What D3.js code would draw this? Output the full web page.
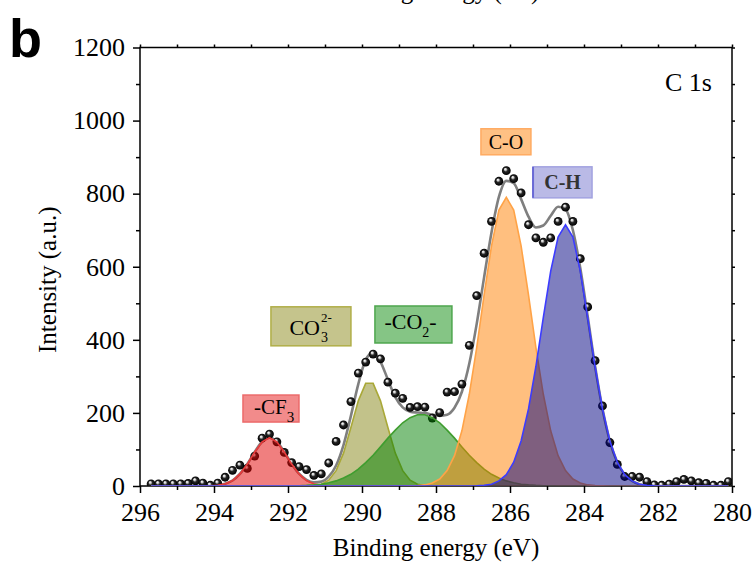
<!DOCTYPE html>
<html>
<head>
<meta charset="utf-8">
<script src="https://cdn.jsdelivr.net/npm/d3@7"></script>
<style>
  html, body { margin: 0; padding: 0; background: #fff; }
  svg { display: block; }
  text { font-family: "Liberation Serif", "Times New Roman", serif; fill: #000; }
</style>
</head>
<body>
<svg id="chart" width="756" height="569"></svg>
<script>
'use strict';

// binding energy grid (eV), 0.2 eV step
var energy = [
  295.7, 295.5, 295.3, 295.1, 294.9, 294.7, 294.5, 294.3, 294.1, 293.9,
  293.7, 293.5, 293.3, 293.1, 292.9, 292.7, 292.5, 292.3, 292.1, 291.9,
  291.7, 291.5, 291.3, 291.1, 290.9, 290.7, 290.5, 290.3, 290.1, 289.9,
  289.7, 289.5, 289.3, 289.1, 288.9, 288.7, 288.5, 288.3, 288.1, 287.9,
  287.7, 287.5, 287.3, 287.1, 286.9, 286.7, 286.5, 286.3, 286.1, 285.9,
  285.7, 285.5, 285.3, 285.1, 284.9, 284.7, 284.5, 284.3, 284.1, 283.9,
  283.7, 283.5, 283.3, 283.1, 282.9, 282.7, 282.5, 282.3, 282.1, 281.9,
  281.7, 281.5, 281.3, 281.1, 280.9, 280.7, 280.5, 280.3, 280.1
];

// measured counts (black dots)
var measured = [
  6, 6, 6, 6, 6, 7, 14, 8, 2, 8,
  24, 43, 57, 48, 82, 131, 142, 121, 92, 64,
  53, 45, 29, 33, 63, 122, 167, 231, 309, 339,
  361, 348, 284, 254, 240, 215, 217, 216, 186, 201,
  257, 258, 279, 385, 521, 637, 724, 834, 863, 841,
  802, 715, 679, 667, 679, 724, 763, 724, 622, 490,
  343, 219, 119, 59, 26, 26, 24, 12, 3, 2,
  5, 12, 18, 14, 9, 7, 2, 2, 12
];

// fitted components, each starting at the energy in fitStart
var cf3Fit = [0.5, 2, 6, 15, 33, 60, 93, 121, 132, 121, 93, 60, 33, 15, 6, 2, 0.5];
var co3Fit = [0.3, 1.4, 5, 16, 42, 90, 160, 233, 281, 281, 233, 160, 90, 42, 16, 5, 1.4, 0.3];
var co2Fit = [0.4, 0.8, 1.6, 3, 5, 9, 14, 22, 32, 46, 64, 84, 107, 131, 153, 173, 187, 195,
  195, 187, 173, 153, 131, 107, 84, 64, 46, 32, 22, 14, 9, 5, 3, 1.6, 0.8, 0.4];
var coFit = [0.3, 1, 3, 8, 19, 42, 83, 151, 251, 379, 523, 657, 755, 790, 755, 657, 523, 379,
  251, 151, 83, 42, 19, 8, 3, 1, 0.3];
var chFit = [0.6, 2, 5, 14, 31, 65, 123, 211, 327, 461, 588, 681, 715, 681, 588, 461, 327, 211,
  123, 65, 31, 14, 5, 2, 0.6];
var fitStart = [294.1, 291.5, 291.9, 288.7, 286.9];

var xTicks = [296, 294, 292, 290, 288, 286, 284, 282, 280];
var xMinor = [295, 293, 291, 289, 287, 285, 283, 281];
var yTicks = [0, 200, 400, 600, 800, 1000, 1200];
var yMinor = [100, 300, 500, 700, 900, 1100];

var margin = {top: 47.5, right: 24, bottom: 83, left: 140};
var width = 756 - margin.left - margin.right;
var height = 569 - margin.top - margin.bottom;

var xScale = d3.scaleLinear().domain([296, 280]).range([0, width]);
var yScale = d3.scaleLinear().domain([0, 1200]).range([height, 0]);

function padFit(values, start) {
  var offset = Math.round((energy[0] - start) / 0.2);
  return energy.map(function (e, i) {
    var j = i - offset;
    return j >= 0 && j < values.length ? values[j] : 0;
  });
}

var peaks = [
  {values: padFit(cf3Fit, fitStart[0]), fill: 'rgba(225,0,0,0.5)', stroke: '#e83c3c'},
  {values: padFit(co3Fit, fitStart[1]), fill: 'rgba(133,133,21,0.5)', stroke: '#a9a838'},
  {values: padFit(co2Fit, fitStart[2]), fill: 'rgba(0,128,0,0.5)', stroke: '#3f9d2f'},
  {values: padFit(coFit, fitStart[3]), fill: 'rgba(255,128,0,0.5)', stroke: '#ffa347'},
  {values: padFit(chFit, fitStart[4]), fill: 'rgba(0,0,128,0.5)', stroke: '#3c3cff'}
];

var envelope = energy.map(function (e, i) {
  return d3.sum(peaks, function (p) { return p.values[i]; });
});

var svg = d3.select('#chart');

var defs = svg.append('defs');
var grad = defs.append('radialGradient')
    .attr('id', 'ball')
    .attr('cx', 0.5).attr('cy', 0.5).attr('r', 0.5)
    .attr('fx', 0.36).attr('fy', 0.3);
grad.append('stop').attr('offset', 0).attr('stop-color', '#ffffff');
grad.append('stop').attr('offset', 0.22).attr('stop-color', '#d0d0d0');
grad.append('stop').attr('offset', 0.48).attr('stop-color', '#262626');
grad.append('stop').attr('offset', 1).attr('stop-color', '#000000');

defs.append('clipPath').attr('id', 'plot-clip')
  .append('rect')
    .attr('x', 0).attr('y', -6)
    .attr('width', width).attr('height', height + 6);

var chart = svg.append('g')
    .attr('transform', 'translate(' + margin.left + ',' + margin.top + ')');

// Axes
function styleAxis(g) {
  g.select('.domain').remove();
  g.selectAll('line').attr('stroke', '#000').attr('stroke-width', 1.5);
  g.attr('font-family', '"Liberation Serif", "Times New Roman", serif').attr('font-size', 26);
  g.selectAll('text').attr('fill', '#000');
}

chart.append('g')
    .attr('transform', 'translate(0,' + height + ')')
    .call(d3.axisBottom(xScale).tickValues(xTicks).tickSize(7).tickPadding(9.5).tickFormat(d3.format('d')))
    .call(styleAxis);
chart.append('g')
    .attr('transform', 'translate(0,' + height + ')')
    .call(d3.axisBottom(xScale).tickValues(xMinor).tickSize(4).tickFormat(''))
    .call(styleAxis);
chart.append('g')
    .call(d3.axisTop(xScale).tickValues(xTicks.concat(xMinor)).tickSize(3).tickFormat(''))
    .call(styleAxis);

chart.append('g')
    .call(d3.axisLeft(yScale).tickValues(yTicks).tickSize(7).tickPadding(8).tickFormat(d3.format('d')))
    .call(styleAxis);
chart.append('g')
    .call(d3.axisLeft(yScale).tickValues(yMinor).tickSize(4).tickFormat(''))
    .call(styleAxis);
chart.append('g')
    .attr('transform', 'translate(' + width + ',0)')
    .call(d3.axisRight(yScale).tickValues(yTicks.concat(yMinor)).tickSize(3).tickFormat(''))
    .call(styleAxis);

chart.append('rect')
    .attr('width', width)
    .attr('height', height)
    .attr('fill', 'none')
    .attr('stroke', '#000')
    .attr('stroke-width', 1.5);

var plot = chart.append('g').attr('clip-path', 'url(#plot-clip)');

// Envelope
plot.append('path')
    .datum(envelope)
    .attr('fill', 'none')
    .attr('stroke', '#7f7f7f')
    .attr('stroke-width', 2.6)
    .attr('d', d3.line()
      .x(function (d, i) { return xScale(energy[i]); })
      .y(function (d) { return yScale(d); })
      .curve(d3.curveMonotoneX));

// Measured points
plot.selectAll('circle.pt')
    .data(measured)
  .enter().append('circle')
    .attr('class', 'pt')
    .attr('cx', function (d, i) { return xScale(energy[i]); })
    .attr('cy', function (d) { return yScale(d); })
    .attr('r', 4.4)
    .attr('fill', 'url(#ball)');

// Peak components
var area = d3.area()
    .x(function (d, i) { return xScale(energy[i]); })
    .y0(yScale(0))
    .y1(function (d) { return yScale(d); });
var edge = d3.line()
    .x(function (d, i) { return xScale(energy[i]); })
    .y(function (d) { return yScale(d); });

peaks.forEach(function (p) {
  plot.append('path')
      .datum(p.values)
      .attr('fill', p.fill)
      .attr('d', area);
  plot.append('path')
      .datum(p.values)
      .attr('fill', 'none')
      .attr('stroke', p.stroke)
      .attr('stroke-width', 1.6)
      .attr('d', edge);
});

// Peak labels
function labelBox(ev, inten, w, h, fill, stroke) {
  var g = chart.append('g')
      .attr('transform', 'translate(' + xScale(ev) + ',' + yScale(inten) + ')');
  g.append('rect')
      .attr('x', -w / 2).attr('y', -h / 2)
      .attr('width', w).attr('height', h)
      .attr('fill', fill)
      .attr('stroke', stroke)
      .attr('stroke-width', 1.5);
  return g;
}

var cf3 = labelBox(292.46, 212, 56, 27, '#f28b8b', '#ec6a6a');
var t = cf3.append('text').attr('x', -17).attr('y', 5).attr('font-size', 21);
t.append('tspan').text('-CF');
t.append('tspan').attr('font-size', 15).attr('dy', 8).text('3');

var co3 = labelBox(291.38, 437, 80, 39, '#c5c48c', '#b0ae48');
co3.append('text').attr('x', 9).attr('y', 8.5).attr('font-size', 22)
    .attr('text-anchor', 'end').text('CO');
co3.append('text').attr('x', 10).attr('y', -4.5).attr('font-size', 13).text('2-');
co3.append('text').attr('x', 10).attr('y', 15.5).attr('font-size', 14).text('3');

var co2 = labelBox(288.61, 442, 77, 37, '#85c585', '#4ea64e');
t = co2.append('text').attr('x', -29).attr('y', 4.5).attr('font-size', 22);
t.append('tspan').text('-CO');
t.append('tspan').attr('font-size', 14).attr('dy', 8).text('2');
t.append('tspan').attr('dy', -8).text('-');

var co = labelBox(286.11, 942, 50, 26, '#ffc184', '#ffab62');
co.append('text').attr('y', 7).attr('font-size', 20)
    .attr('text-anchor', 'middle').text('C-O');

var ch = labelBox(284.58, 831, 59, 31, '#babae6', '#a2a2e0');
ch.append('line')
    .attr('x1', -29.5).attr('x2', -29.5).attr('y1', -15.5).attr('y2', 15.5)
    .attr('stroke', '#6a6ad6').attr('stroke-width', 2);
ch.append('text').attr('y', 7).attr('font-size', 20).attr('font-weight', 'bold')
    .attr('text-anchor', 'middle').style('fill', '#333')
    .text('C-H');

// Titles
chart.append('text')
    .attr('x', width - 20)
    .attr('y', 91 - margin.top)
    .attr('font-size', 26)
    .attr('text-anchor', 'end')
    .text('C 1s');

svg.append('text')
    .attr('x', margin.left + width / 2)
    .attr('y', 556)
    .attr('font-size', 25)
    .attr('text-anchor', 'middle')
    .text('Binding energy (eV)');

// axis title of the panel above, cut by the top edge as in the source figure
svg.append('text')
    .attr('x', margin.left + width / 2)
    .attr('y', -1)
    .attr('font-size', 25)
    .attr('text-anchor', 'middle')
    .text('Binding energy (eV)');

svg.append('text')
    .attr('transform', 'translate(56,' + (margin.top + height / 2 + 13) + ') rotate(-90)')
    .attr('font-size', 25)
    .attr('text-anchor', 'middle')
    .text('Intensity (a.u.)');

svg.append('text')
    .attr('x', 9)
    .attr('y', 57)
    .attr('font-size', 54)
    .attr('font-weight', 'bold')
    .style('font-family', '"Liberation Sans", Arial, sans-serif')
    .text('b');
</script>
</body>
</html>
